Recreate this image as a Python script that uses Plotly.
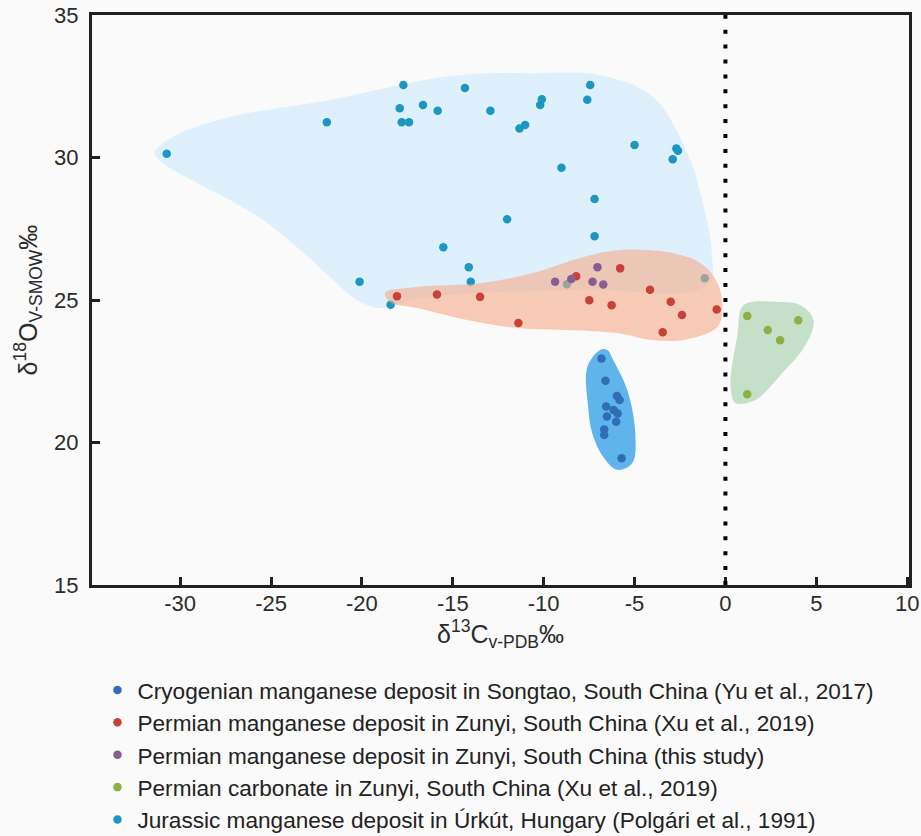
import plotly.graph_objects as go

# ---------------- data (δ13C, δ18O) ----------------
jur_x = [-30.74, -21.93, -17.72, -17.92, -16.64, -15.83, -17.81, -17.41, -15.52, -20.13,
         -18.42, -14.33, -12.93, -11.33, -11.02, -10.19, -10.10, -7.44, -7.60, -5.00,
         -2.70, -2.61, -2.90, -9.02, -7.20, -12.01, -7.20, -14.12, -14.01, -8.72, -1.14]
jur_y = [30.13, 31.24, 32.54, 31.73, 31.84, 31.64, 31.24, 31.24, 26.85, 25.64,
         24.83, 32.44, 31.64, 31.02, 31.14, 31.84, 32.04, 32.54, 32.03, 30.44,
         30.32, 30.24, 29.94, 29.64, 28.54, 27.83, 27.24, 26.15, 25.64, 25.55, 25.76]

pxu_x = [-18.07, -15.87, -13.50, -11.39, -8.21, -5.79, -7.49, -6.26, -4.15, -3.01, -2.39, -0.48, -3.45]
pxu_y = [25.13, 25.19, 25.11, 24.19, 25.83, 26.11, 24.99, 24.82, 25.36, 24.94, 24.47, 24.67, 23.87]

pts_x = [-9.37, -8.48, -7.31, -6.72, -7.04]
pts_y = [25.64, 25.74, 25.64, 25.54, 26.15]

cry_x = [-6.82, -6.60, -5.97, -5.82, -6.56, -6.52, -6.15, -5.93, -6.01, -6.67, -6.67, -5.71]
cry_y = [22.95, 22.17, 21.63, 21.49, 21.26, 20.91, 21.14, 21.02, 20.73, 20.46, 20.26, 19.45]

carb_x = [1.20, 4.01, 2.33, 3.01, 1.20]
carb_y = [24.44, 24.29, 23.95, 23.59, 21.69]

# field envelopes (outline vertices)
jur_env_x = [-31.40, -30.41, -27.27, -21.76, -15.15, -10.58, -6.89, -3.97, -1.93, -1.38, -0.94,
             -0.72, -0.77, -1.93, -6.89, -12.40, -16.80, -19.01, -20.28, -21.76, -23.58,
             -25.45, -27.27, -29.09, -30.96, -31.40]
jur_env_y = [30.16, 30.72, 31.42, 32.02, 32.86, 32.96, 32.89, 32.12, 29.91, 28.75, 27.56,
             26.40, 25.70, 25.28, 25.35, 25.28, 25.07, 24.72, 25.00, 25.81, 26.86,
             27.81, 28.51, 29.11, 29.81, 30.16]

pxu_env_x = [-18.73, -16.97, -13.33, -10.58, -7.82, -5.95, -3.20, -1.38, -0.44, -0.17, -0.44,
             -2.31, -4.13, -5.95, -8.71, -11.46, -14.21, -16.97, -18.46, -18.73]
pxu_env_y = [25.25, 25.46, 25.60, 25.95, 26.51, 26.75, 26.68, 26.30, 25.60, 24.75, 24.05,
             23.60, 23.60, 23.84, 23.95, 24.02, 24.30, 24.72, 24.93, 25.25]

cry_env_x = [-6.89, -7.60, -7.55, -7.33, -6.72, -5.95, -5.12, -4.96, -5.40, -6.17, -6.50, -6.89]
cry_env_y = [23.25, 22.65, 21.25, 20.33, 19.49, 19.04, 19.28, 20.33, 21.84, 22.89, 23.25, 23.25]

carb_env_x = [0.99, 2.87, 4.13, 4.85, 4.41, 3.03, 1.65, 0.55, 0.28, 0.66, 0.99]
carb_env_y = [24.82, 24.93, 24.82, 24.30, 23.42, 22.37, 21.49, 21.39, 22.02, 23.77, 24.82]

names = [
    "Cryogenian manganese deposit in Songtao, South China (Yu et al., 2017)",
    "Permian manganese deposit in Zunyi, South China (Xu et al., 2019)",
    "Permian manganese deposit in Zunyi, South China (this study)",
    "Permian carbonate in Zunyi, South China (Xu et al., 2019)",
    "Jurassic manganese deposit in Úrkút, Hungary (Polgári et al., 1991)",
]

x_ticks = [-30, -25, -20, -15, -10, -5, 0, 5, 10]
y_ticks = [15, 20, 25, 30, 35]

C_CRY, C_RED, C_PUR, C_GRN, C_JUR = "#2f6db5", "#c8423b", "#8b5c92", "#8fae45", "#1b97c1"

fig = go.Figure()

def env(x, y, color):
    fig.add_trace(go.Scatter(x=x, y=y, mode="lines", fill="toself", fillcolor=color,
                             line=dict(width=0, shape="spline", smoothing=1.0),
                             showlegend=False, hoverinfo="skip"))

def pts(x, y, color, name, rank):
    fig.add_trace(go.Scatter(x=x, y=y, mode="markers", name=name,
                             marker=dict(size=8.5, color=color),
                             legendgroup=name, legendrank=rank))

env(jur_env_x, jur_env_y, "#dff0fd")
pts(jur_x, jur_y, C_JUR, names[4], 5)
env(pxu_env_x, pxu_env_y, "rgba(245,170,135,0.6)")
pts(pxu_x, pxu_y, C_RED, names[1], 2)
pts(pts_x, pts_y, C_PUR, names[2], 3)
env(cry_env_x, cry_env_y, "#5fb4ec")
pts(cry_x, cry_y, C_CRY, names[0], 1)
env(carb_env_x, carb_env_y, "#c5e0c9")
pts(carb_x, carb_y, C_GRN, names[3], 4)

fig.add_shape(type="line", x0=0, x1=0, y0=15, y1=35, xref="x", yref="y",
              line=dict(color="black", width=4, dash="4px,10.9px"), layer="above")

FONT = "Liberation Sans, Arial, sans-serif"
axis_font = dict(family=FONT, size=22, color="#2b2b2b")
common = dict(showline=True, linewidth=3, linecolor="#231f20", mirror=True,
              ticks="inside", ticklen=8, tickwidth=3, tickcolor="#231f20",
              showgrid=False, zeroline=False, tickfont=axis_font)

fig.update_xaxes(range=[-34.85, 10.1], tickvals=x_ticks, ticktext=[str(v) for v in x_ticks],
                 ticklabelstandoff=-3,
                 title=dict(text="δ<sup>13</sup>C<sub>v-PDB</sub>‰", standoff=0,
                            font=dict(family=FONT, size=25, color="#2b2b2b")),
                 **common)
fig.update_yaxes(range=[15, 35], tickvals=y_ticks, ticktext=[str(v) for v in y_ticks],
                 ticklabelstandoff=6,
                 title=dict(text="δ<sup>18</sup>O<sub>V-SMOW</sub>‰", standoff=10,
                            font=dict(family=FONT, size=25, color="#2b2b2b")),
                 **common)

fig.update_layout(
    width=921, height=836,
    margin=dict(l=92, r=12, t=15, b=251, autoexpand=False),
    paper_bgcolor="#fafafa", plot_bgcolor="#fafafa",
    legend=dict(x=0.0067, y=-0.147, xanchor="left", yanchor="top",
                traceorder="grouped", tracegroupgap=0,
                font=dict(family=FONT, size=22.6, color="#222"),
                bgcolor="rgba(0,0,0,0)"),
)

fig.write_html("out.html", config={"displayModeBar": False},
               post_script="document.body.style.margin='0';document.body.style.background='#fafafa';")
